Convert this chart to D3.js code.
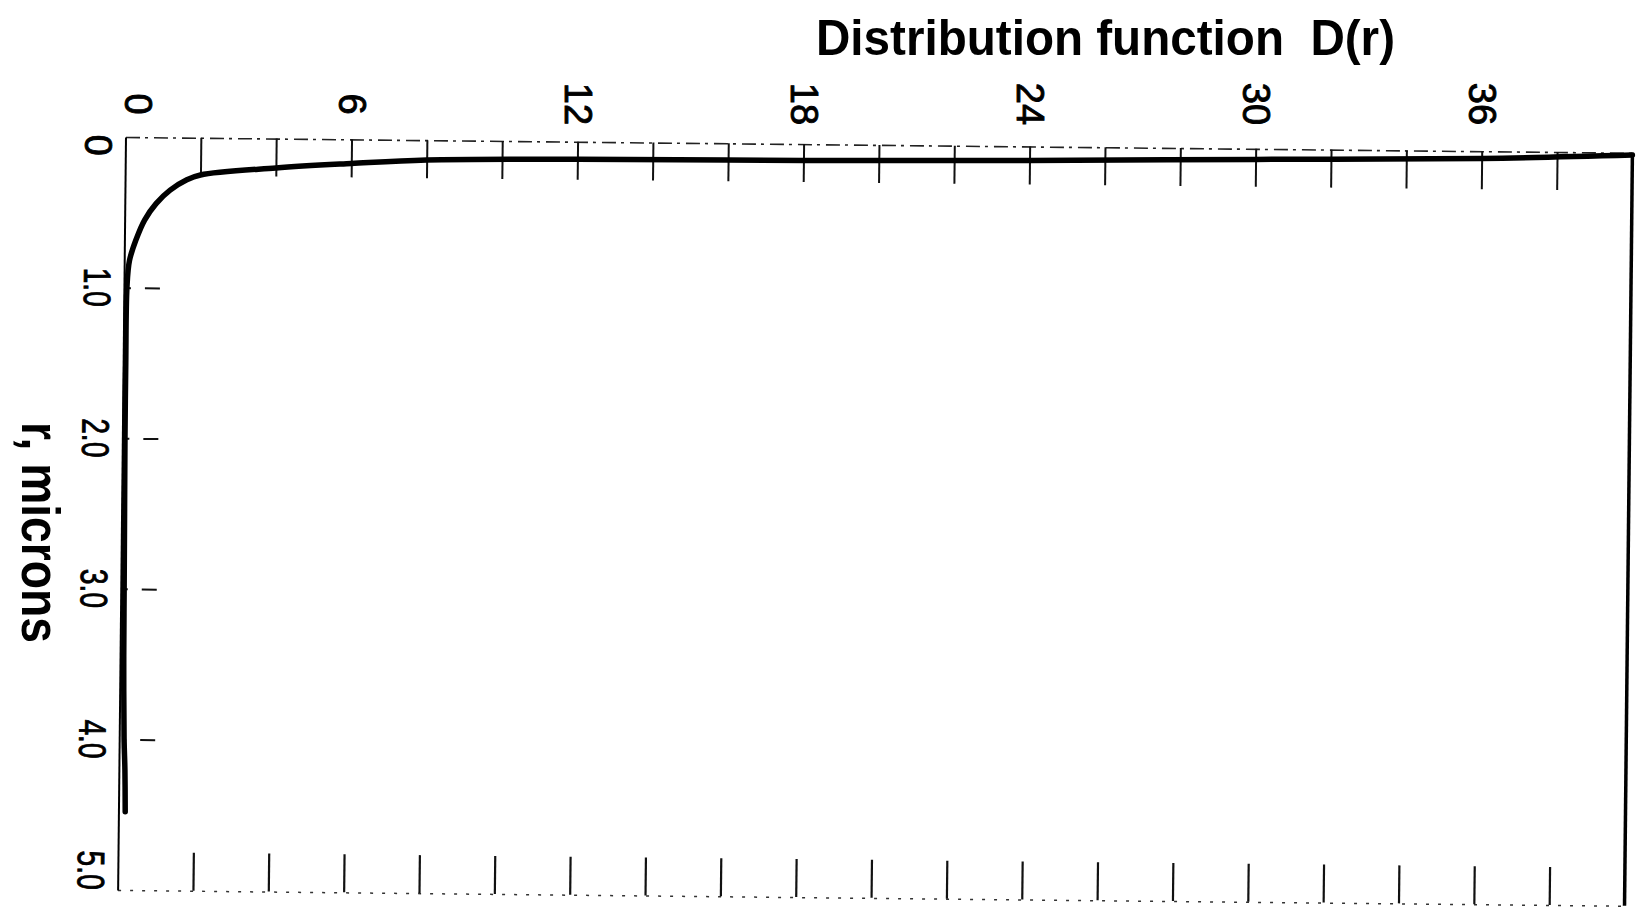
<!DOCTYPE html>
<html><head><meta charset="utf-8">
<script src="https://cdn.jsdelivr.net/npm/d3@7"></script>
<style>html,body{margin:0;padding:0;background:#fff;} svg{display:block;}</style>
</head><body>
<svg id="chart" width="1645" height="911"></svg>
<script>
// Curve: distribution function D(r) versus radius r (microns)
const curveD = [40, 36, 30, 24, 18, 12, 8, 6, 4, 2, 1.64, 1.2, 0.83, 0.53, 0.31, 0.14, 0.08, 0.07, 0.07, 0.08, 0.09, 0.1, 0.13, 0.16, 0.18];
const curveR = [0.015, 0.048, 0.07, 0.093, 0.109, 0.116, 0.131, 0.16, 0.195, 0.247, 0.28, 0.35, 0.44, 0.55, 0.68, 0.82, 1.0, 1.5, 2.0, 2.5, 3.0, 3.5, 4.0, 4.2, 4.48];
const dTickLabels = [0, 6, 12, 18, 24, 30, 36];
const dMinorTicks = [2, 4, 6, 8, 10, 12, 14, 16, 18, 20, 22, 24, 26, 28, 30, 32, 34, 36, 38];
const rTickLabels = [0, 1, 2, 3, 4, 5];
const rInnerTicks = [1, 2, 3, 4];
const dDomain = [0, 40];
const rDomain = [0, 5];
const titleText = "Distribution function\u00a0\u00a0D(r)";
const rTitleText = "r, microns";

const ox = 125.5, oy = 137, pw = 1507, ph = 753, tilt = 0.6;
const font = "'Liberation Sans', Arial, sans-serif";

const x = d3.scaleLinear().domain(dDomain).range([0, pw]);
const y = d3.scaleLinear().domain(rDomain).range([0, ph]);

const svg = d3.select("#chart");
svg.append("rect").attr("width", 1645).attr("height", 911).attr("fill", "#fff");

const g = svg.append("g").attr("transform", `translate(${ox},${oy}) rotate(${tilt})`);

// top edge with hanging ticks
const topAx = g.append("g").call(d3.axisTop(x).tickValues(dMinorTicks).tickSize(-38).tickSizeOuter(0).tickFormat(""));
topAx.select(".domain").attr("stroke", "#222").attr("stroke-width", 1.6).attr("stroke-dasharray", "14,5,3,6");
topAx.selectAll(".tick line").attr("stroke", "#111").attr("stroke-width", 2);

// bottom edge with rising ticks
const botAx = g.append("g").attr("transform", `translate(0,${ph})`)
  .call(d3.axisBottom(x).tickValues(dMinorTicks).tickSize(-38).tickSizeOuter(0).tickFormat(""));
botAx.select(".domain").attr("stroke", "#333").attr("stroke-width", 1.5).attr("stroke-dasharray", "3,9");
botAx.selectAll(".tick line").attr("stroke", "#111").attr("stroke-width", 2.2);

// left axis
const leftAx = g.append("g").call(d3.axisLeft(y).tickValues(rInnerTicks).tickSize(-36).tickSizeOuter(0).tickFormat(""));
leftAx.select(".domain").attr("stroke", "#000").attr("stroke-width", 2);
leftAx.selectAll(".tick line").attr("stroke", "#111").attr("stroke-width", 2).attr("stroke-dasharray", "0,3,4,14,15,10");

// right edge
g.append("line").attr("x1", x(dDomain[1])).attr("x2", x(dDomain[1])).attr("y1", 0).attr("y2", y(rDomain[1]))
  .attr("stroke", "#000").attr("stroke-width", 3.5);

// curve
const pts = curveD.map((d, i) => [d, curveR[i]]);
g.append("path").datum(pts)
  .attr("d", d3.line().x(p => x(p[0])).y(p => y(p[1])).curve(d3.curveCatmullRom.alpha(0.5)))
  .attr("fill", "none").attr("stroke", "#000").attr("stroke-width", 5.5)
  .attr("stroke-linecap", "round").attr("stroke-linejoin", "round");

// r tick labels (rotated)
g.selectAll(".rlab").data(rTickLabels).enter().append("text")
  .attr("class", "rlab")
  .attr("transform", d => `translate(-27,${y(d) + (d === 0 ? -2 : 0)}) rotate(90)`)
  .attr("text-anchor", d => d === rDomain[0] ? "start" : (d === rDomain[1] ? "end" : "middle"))
  .attr("dominant-baseline", "central")
  .attr("font-family", font).attr("font-size", 38).attr("fill", "#000")
  .attr("stroke", "#000").attr("stroke-width", 0.9)
  .each(function(d) { if (d !== 0) d3.select(this).attr("textLength", 39).attr("lengthAdjust", "spacingAndGlyphs"); })
  .text(d => d === 0 ? "0" : d3.format(".1f")(d));

// D tick labels (rotated, above the top edge)
svg.selectAll(".dlab").data(dTickLabels).enter().append("text")
  .attr("class", "dlab")
  .attr("transform", d => `translate(${ox + x(d) + (d === 0 ? 12 : 0)},104) rotate(90)`)
  .attr("text-anchor", "middle").attr("dominant-baseline", "central")
  .attr("font-family", font).attr("font-size", 38).attr("fill", "#000")
  .attr("stroke", "#000").attr("stroke-width", 0.9)
  .text(d => d);

// title
svg.append("text").attr("x", 816).attr("y", 55)
  .attr("font-family", font).attr("font-size", 50).attr("font-weight", "bold").attr("fill", "#000")
  .attr("textLength", 579).attr("lengthAdjust", "spacingAndGlyphs")
  .text(titleText);

// r axis title
svg.append("text").attr("transform", "translate(22,422) rotate(90)")
  .attr("font-family", font).attr("font-size", 54).attr("font-weight", "bold").attr("fill", "#000")
  .attr("textLength", 221).attr("lengthAdjust", "spacingAndGlyphs")
  .text(rTitleText);
</script>
</body></html>
